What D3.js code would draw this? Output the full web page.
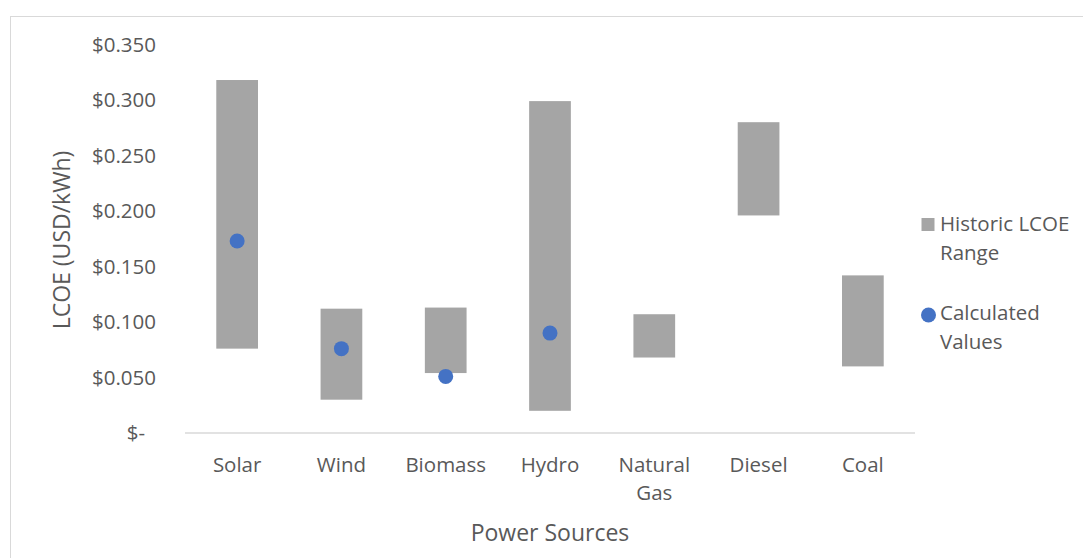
<!DOCTYPE html>
<html><head><meta charset="utf-8">
<script src="https://cdn.jsdelivr.net/npm/d3@7"></script>
<style>
body{margin:0;background:#fff;}
text{font-family:"Open Sans",Lato,sans-serif;fill:#595959;}
</style></head>
<body><svg id="c" width="1083" height="558"></svg>
<script>
const categories = ["Solar","Wind","Biomass","Hydro","Natural Gas","Diesel","Coal"];
const rangeLow  = [0.076, 0.030, 0.054, 0.020, 0.068, 0.196, 0.060];
const rangeHigh = [0.318, 0.112, 0.113, 0.299, 0.107, 0.280, 0.142];
const calculated = [0.173, 0.076, 0.051, 0.090, null, null, null];
const yTicks = [0, 0.05, 0.10, 0.15, 0.20, 0.25, 0.30, 0.35];
const legendLabels = [["Historic LCOE","Range"],["Calculated","Values"]];

const svg = d3.select("#c");
svg.append("rect").attr("x",10.5).attr("y",16.5).attr("width",1080).attr("height",560)
  .attr("fill","#fff").attr("stroke","#d9d9d9").attr("stroke-width",1);

const x = d3.scaleBand().domain(categories).range([185,915]).paddingInner(0.6).paddingOuter(0.3);
const y = d3.scaleLinear().domain([0,0.35]).range([433,44.5]);

const fs = 20.5;
// y tick labels
const fmt = v => v===0 ? "$-" : "$" + d3.format(".3f")(v);
svg.append("g").selectAll("text").data(yTicks).join("text")
  .attr("x", d => d===0 ? 145 : 156)
  .attr("y", d => y(d)).attr("dy","0.35em")
  .attr("text-anchor","end").attr("font-size",fs)
  .text(fmt);

// baseline
svg.append("line").attr("x1",185).attr("x2",915).attr("y1",y(0)).attr("y2",y(0))
  .attr("stroke","#d9d9d9").attr("stroke-width",1.5);

// bars
const data = categories.map((c,i)=>({c, lo:rangeLow[i], hi:rangeHigh[i], v:calculated[i]}));
svg.append("g").selectAll("rect").data(data).join("rect")
  .attr("x", d=>x(d.c)).attr("width", x.bandwidth())
  .attr("y", d=>y(d.hi)).attr("height", d=>y(d.lo)-y(d.hi))
  .attr("fill","#a5a5a5");

// dots
svg.append("g").selectAll("circle").data(data.filter(d=>d.v!=null)).join("circle")
  .attr("cx", d=>x(d.c)+x.bandwidth()/2).attr("cy", d=>y(d.v)).attr("r",7.5)
  .attr("fill","#4472c4");

// x labels
const xl = svg.append("g").selectAll("text").data(categories).join("text")
  .attr("text-anchor","middle").attr("font-size",fs)
  .attr("x", d=>x(d)+x.bandwidth()/2).attr("y",465);
xl.each(function(d){
  const t = d3.select(this);
  const parts = d==="Natural Gas" ? ["Natural","Gas"] : [d];
  parts.forEach((p,i)=>t.append("tspan").attr("x", x(d)+x.bandwidth()/2).attr("dy", i===0?"0.35em":"28").text(p));
});

// axis titles
svg.append("text").attr("x",550).attr("y",533).attr("dy","0.35em").attr("text-anchor","middle")
  .attr("font-size",23).text("Power Sources");
svg.append("text").attr("transform","translate(62,240) rotate(-90)").attr("dy","0.35em")
  .attr("text-anchor","middle").attr("font-size",23).text("LCOE (USD/kWh)");

// legend
const lg = svg.append("g");
lg.append("rect").attr("x",921.5).attr("y",218).attr("width",13).attr("height",13).attr("fill","#a5a5a5");
lg.append("circle").attr("cx",928.5).attr("cy",315).attr("r",7.5).attr("fill","#4472c4");
[[224,legendLabels[0]],[313,legendLabels[1]]].forEach(([yy,lines])=>{
  lines.forEach((l,i)=>lg.append("text").attr("x",940).attr("y",yy+i*29).attr("dy","0.35em")
    .attr("font-size",fs).text(l));
});
</script></body></html>
